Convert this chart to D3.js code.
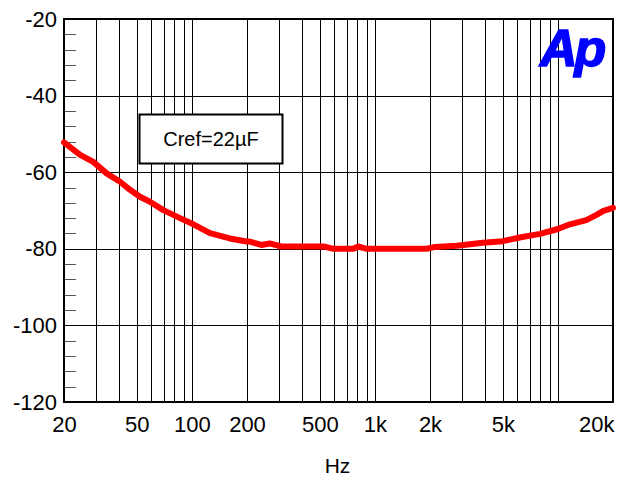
<!DOCTYPE html>
<html>
<head>
<meta charset="utf-8">
<script src="https://cdn.jsdelivr.net/npm/d3@7"></script>
<style>
  body { margin: 0; background: #fff; }
  text { font-family: Arial, "Liberation Sans", sans-serif; }
</style>
</head>
<body>
<div id="main"></div>
<script>
// data
const freqs = [20, 24.5, 28.9, 34.2, 40.5, 45.9, 52, 59, 69.8, 86.1, 101.8, 125.6, 161, 199, 207, 240, 266, 308, 420, 526, 594, 762, 810, 902, 1200, 1600, 1919, 2143, 2803, 3893, 4987, 6284, 7986, 9893, 11641, 14280, 16160, 17730, 20000];
const levels = [-52.2, -55.5, -57.3, -60.3, -62.5, -64.6, -66.4, -67.7, -69.9, -72.0, -73.6, -75.9, -77.3, -78.1, -78.1, -79, -78.6, -79.4, -79.4, -79.4, -80, -80, -79.4, -80, -80, -80, -80, -79.5, -79.2, -78.4, -78, -77, -76.1, -74.9, -73.6, -72.5, -71.2, -70.1, -69.3];
const xTickValues = [20, 50, 100, 200, 500, 1000, 2000, 5000, 20000];
const xTickLabels = ['20', '50', '100', '200', '500', '1k', '2k', '5k', '20k'];
const yTickValues = [-20, -40, -60, -80, -100, -120];
const legendText = 'Cref=22\u00b5F';

const svgWidth = 626;
const svgHeight = 477;
const margin = { t: 19, r: 13, b: 75, l: 64 };
const chartWidth = svgWidth - margin.l - margin.r;
const chartHeight = svgHeight - margin.t - margin.b;

const svg = d3.select('#main')
  .append('svg')
  .attr('width', svgWidth)
  .attr('height', svgHeight);

const plot = svg.append('g')
  .attr('transform', `translate(${margin.l},${margin.t})`);

const x = d3.scaleLog().domain([20, 20000]).range([0, chartWidth]);
const y = d3.scaleLinear().domain([-120, -20]).range([chartHeight, 0]);

// vertical grid: every 1..9 x decade
const gridFreqs = [];
[10, 100, 1000, 10000].forEach(dec => {
  for (let k = 1; k <= 9; k++) {
    const f = dec * k;
    if (f > 20 && f < 20000) gridFreqs.push(f);
  }
});

plot.append('g')
  .selectAll('line')
  .data(gridFreqs)
  .enter()
  .append('line')
  .attr('x1', d => Math.round(x(d)) + 0.5)
  .attr('x2', d => Math.round(x(d)) + 0.5)
  .attr('y1', 0)
  .attr('y2', chartHeight)
  .attr('stroke', '#000')
  .attr('stroke-width', 1);

// horizontal grid
plot.append('g')
  .selectAll('line')
  .data(yTickValues.slice(1, -1))
  .enter()
  .append('line')
  .attr('x1', 0)
  .attr('x2', chartWidth)
  .attr('y1', d => Math.round(y(d)) + 0.5)
  .attr('y2', d => Math.round(y(d)) + 0.5)
  .attr('stroke', '#000')
  .attr('stroke-width', 1);

// minor ticks on the left edge, every 4 dB
const minorY = d3.range(-116, -20, 4).filter(v => v % 20 !== 0);
plot.append('g')
  .selectAll('line')
  .data(minorY)
  .enter()
  .append('line')
  .attr('x1', 0)
  .attr('x2', 12)
  .attr('y1', d => Math.round(y(d)) + 0.5)
  .attr('y2', d => Math.round(y(d)) + 0.5)
  .attr('stroke', '#555')
  .attr('stroke-width', 1);

// frame
plot.append('rect')
  .attr('x', 0)
  .attr('y', 0)
  .attr('width', chartWidth)
  .attr('height', chartHeight)
  .attr('fill', 'none')
  .attr('stroke', '#000')
  .attr('stroke-width', 2);

// axes (labels only)
const xAxis = d3.axisBottom(x)
  .tickValues(xTickValues)
  .tickFormat((d, i) => xTickLabels[i])
  .tickSize(0)
  .tickPadding(14);
plot.append('g')
  .attr('transform', `translate(0,${chartHeight})`)
  .call(xAxis)
  .call(g => g.select('.domain').remove())
  .selectAll('text')
  .attr('font-size', 22)
  .attr('font-family', 'Arial, "Liberation Sans", sans-serif')
  .attr('fill', '#000')
  // last label sits inside the right edge
  .filter(d => d === 20000)
  .attr('text-anchor', 'end')
  .attr('dx', 1);

const yAxis = d3.axisLeft(y)
  .tickValues(yTickValues)
  .tickSize(0)
  .tickPadding(7)
  .tickFormat(d => d3.format('d')(d).replace('\u2212', '-'));
plot.append('g')
  .call(yAxis)
  .call(g => g.select('.domain').remove())
  .selectAll('text')
  .attr('font-size', 22)
  .attr('font-family', 'Arial, "Liberation Sans", sans-serif')
  .attr('fill', '#000');

// axis title
svg.append('text')
  .attr('x', margin.l + chartWidth / 2 - 1)
  .attr('y', 473)
  .attr('text-anchor', 'middle')
  .attr('font-size', 21)
  .text('Hz');

// curve
const line = d3.line()
  .x((d, i) => x(freqs[i]))
  .y(d => y(d));

plot.append('path')
  .datum(levels)
  .attr('d', line)
  .attr('fill', 'none')
  .attr('stroke', '#ff0000')
  .attr('stroke-width', 6)
  .attr('stroke-linecap', 'round')
  .attr('stroke-linejoin', 'round');

// legend box
svg.append('rect')
  .attr('x', 139.5)
  .attr('y', 114.5)
  .attr('width', 143)
  .attr('height', 49)
  .attr('fill', '#fff')
  .attr('stroke', '#000')
  .attr('stroke-width', 2);
svg.append('text')
  .attr('x', 211)
  .attr('y', 146)
  .attr('text-anchor', 'middle')
  .attr('font-size', 20)
  .text(legendText);

// Ap logo
svg.append('text')
  .attr('x', 540)
  .attr('y', 66)
  .attr('font-size', 52)
  .attr('font-weight', 'bold')
  .attr('font-style', 'italic')
  .attr('letter-spacing', -3)
  .attr('fill', '#0000ff')
  .attr('stroke', '#0000ff')
  .attr('stroke-width', 1.5)
  .text('Ap');
</script>
</body>
</html>
